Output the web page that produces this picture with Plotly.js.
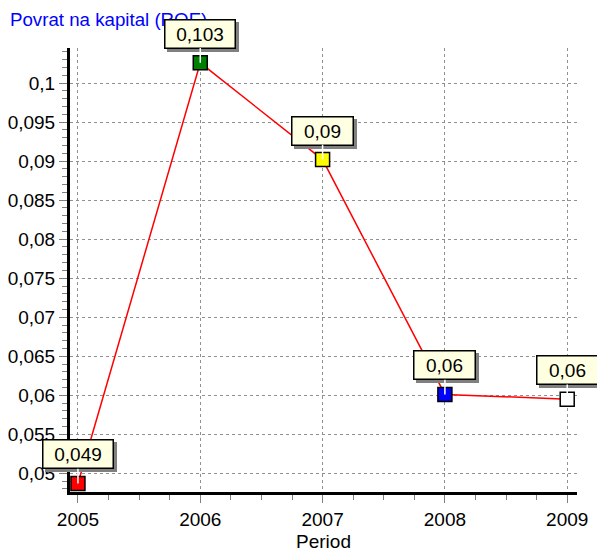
<!DOCTYPE html>
<html>
<head>
<meta charset="utf-8">
<script src="https://cdn.plot.ly/plotly-3.0.1.min.js"></script>
<style>html,body{margin:0;padding:0;background:#fff;}#chart{width:597px;height:554px;}</style>
</head>
<body>
<div id="chart"></div>
<script>
// Data
var years = [2005, 2006, 2007, 2008, 2009];
var roeValues = [0.0487, 0.1026, 0.0902, 0.0601, 0.0595];
var roeLabels = ["0,049", "0,103", "0,09", "0,06", "0,06"];
var markerColors = ["#ff0000", "#008000", "#ffff00", "#0000ff", "#ffffff"];
var chartTitle = "Povrat na kapital (ROE)";
var xTitle = "Period";

var FONT = "Arial, 'Liberation Sans', sans-serif";

var trace = {
  x: years,
  y: roeValues,
  type: "scatter",
  mode: "lines+markers",
  line: {color: "#ff0000", width: 1.5},
  marker: {symbol: "square", size: 14, color: markerColors, line: {color: "#000000", width: 1.5}},
  cliponaxis: false,
  hoverinfo: "skip"
};

var shadows = [], labels = [];
for (var i = 0; i < years.length; i++) {
  var w = roeLabels[i].length * 9 + 22;
  var base = {
    x: years[i], y: roeValues[i], xref: "x", yref: "y",
    showarrow: true, arrowhead: 0, ax: 0, ay: -29,
    width: w, height: 25, borderpad: 1, borderwidth: 1.5,
    font: {family: FONT, size: 19, color: "#000000"}
  };
  var s = Object.assign({}, base, {
    text: " ",
    bgcolor: "#808080", bordercolor: "#808080", arrowcolor: "rgba(0,0,0,0)",
    xshift: 3, yshift: -3
  });
  var l = Object.assign({}, base, {
    text: roeLabels[i],
    bgcolor: "#ffffe1", bordercolor: "#000000", arrowcolor: "#ffffff", arrowwidth: 1.5, standoff: 0
  });
  shadows.push(s); labels.push(l);
}

var layout = {
  width: 597, height: 554,
  margin: {l: 70, r: 20, t: 48, b: 62},
  paper_bgcolor: "#ffffff", plot_bgcolor: "#ffffff",
  separators: ",.",
  showlegend: false,
  font: {family: FONT, size: 19, color: "#000000"},
  title: {
    text: chartTitle, font: {family: FONT, size: 18.7, color: "#0000ff"},
    x: 10 / 597, xanchor: "left", xref: "container",
    y: 1 - 19 / 554, yanchor: "middle", yref: "container"
  },
  xaxis: {
    range: [2004.935, 2009.08],
    tickmode: "linear", tick0: 2005, dtick: 1,
    ticks: "outside", ticklen: 8, tickwidth: 1, tickcolor: "#808080",
    minor: {dtick: 0.25, ticks: "outside", ticklen: 5, tickwidth: 1, tickcolor: "#808080", showgrid: false},
    showline: true, linecolor: "#000000", linewidth: 3,
    showgrid: true, gridcolor: "#909090", griddash: "dot", gridwidth: 1,
    zeroline: false,
    tickfont: {family: FONT, size: 19, color: "#000000"},
    title: {text: xTitle, font: {family: FONT, size: 19, color: "#000000"}, standoff: 6}
  },
  yaxis: {
    range: [0.0476, 0.1045],
    tickmode: "linear", tick0: 0.05, dtick: 0.005,
    ticks: "outside", ticklen: 8, tickwidth: 1, tickcolor: "#808080",
    minor: {dtick: 0.001, ticks: "outside", ticklen: 5, tickwidth: 1, tickcolor: "#808080", showgrid: false},
    showline: true, linecolor: "#000000", linewidth: 3,
    showgrid: true, gridcolor: "#909090", griddash: "dot", gridwidth: 1,
    zeroline: false,
    tickfont: {family: FONT, size: 19, color: "#000000"}
  },
  annotations: shadows.concat(labels)
};

Plotly.newPlot("chart", [trace], layout, {displayModeBar: false, staticPlot: true});
</script>
</body>
</html>
